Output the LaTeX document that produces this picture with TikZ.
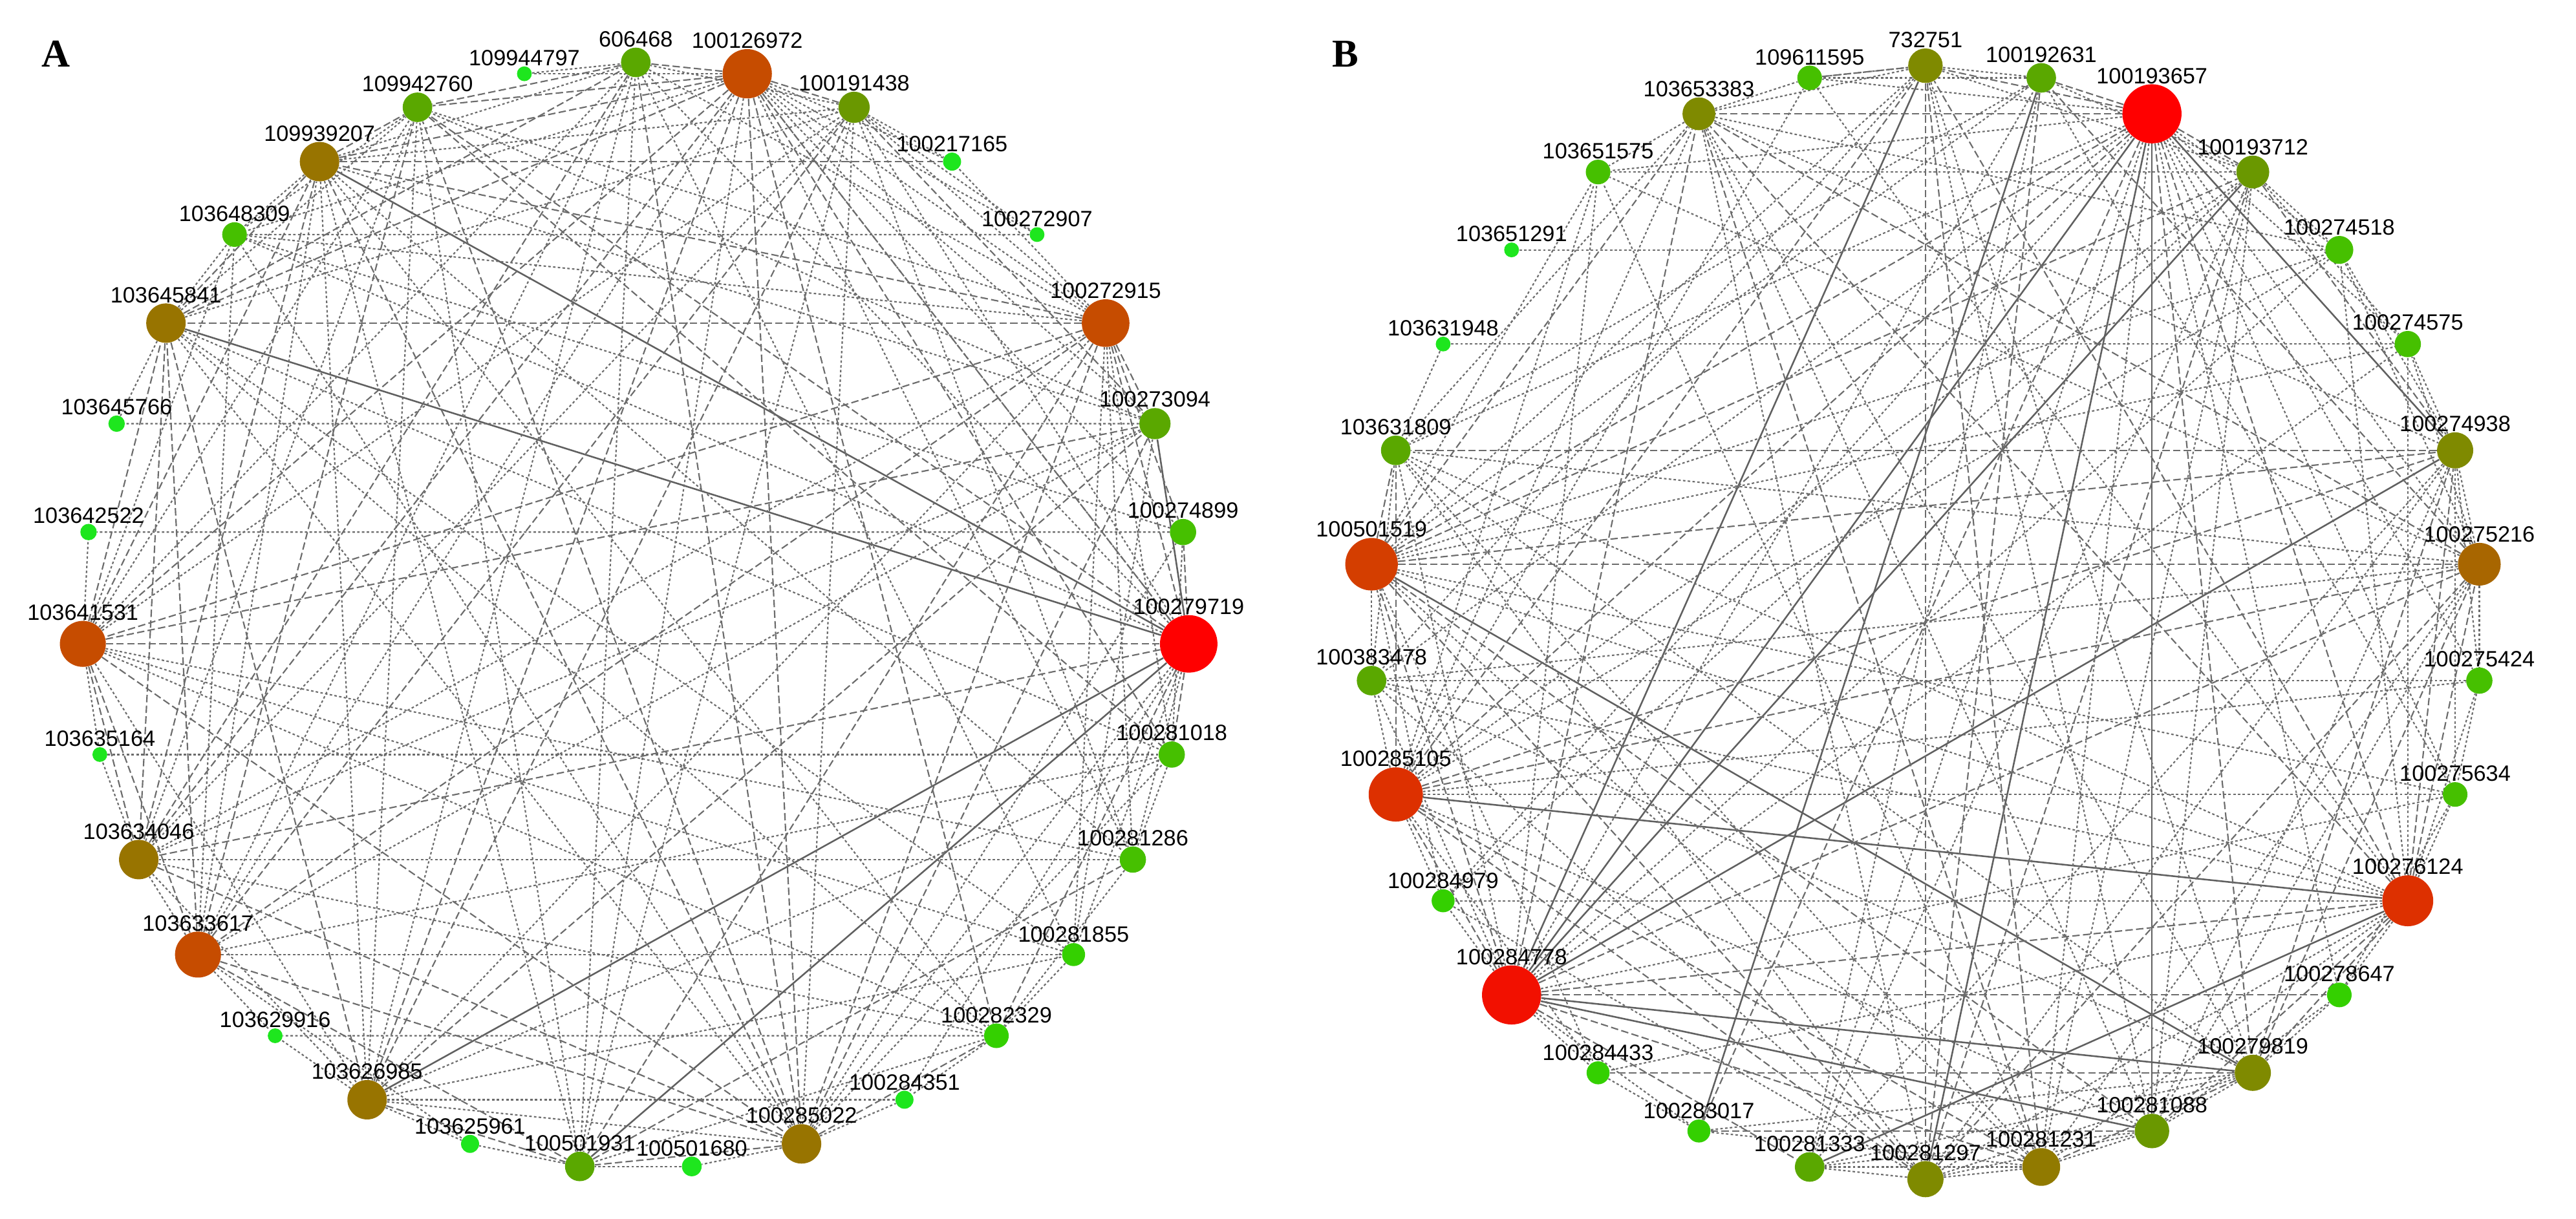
\documentclass[tikz,border=0pt]{standalone}
\usepackage{fontspec}
\newfontfamily\labfont{Liberation Sans}
\newfontfamily\panfont{Liberation Serif}
\pgfdeclarelayer{edges}
\pgfsetlayers{edges,main}
\definecolor{edgeC}{HTML}{6C6C6C}
\definecolor{edgeS}{HTML}{606060}
\definecolor{cRed}{HTML}{FF0000}
\definecolor{cRedB}{HTML}{F21000}
\definecolor{cVerm}{HTML}{DD3000}
\definecolor{cRust}{HTML}{D43E00}
\definecolor{cRustA}{HTML}{C64C00}
\definecolor{cBrown}{HTML}{A86600}
\definecolor{cGold}{HTML}{987400}
\definecolor{cGoldB}{HTML}{917A00}
\definecolor{cOlive}{HTML}{7F8A00}
\definecolor{cOliveG}{HTML}{6A9800}
\definecolor{cLeaf}{HTML}{5AA800}
\definecolor{cGrass}{HTML}{46C000}
\definecolor{cLime}{HTML}{34D000}
\definecolor{cNeon}{HTML}{1EE61E}
\begin{document}
\begin{tikzpicture}[x=1pt, y=-1pt, line cap=round, line join=round]
\tikzset{vtx/.style={circle, inner sep=0pt, draw=none},
  lab/.style={font=\labfont\fontsize{13.5}{14}\selectfont, inner sep=0pt, text=black},
  weak/.style={draw=edgeC, line width=0.85pt, dash pattern=on 1.5pt off 1.4pt},
  mid/.style={draw=edgeC, line width=0.85pt, dash pattern=on 4.5pt off 2pt},
  strong/.style={draw=edgeS, line width=1pt},
  panel/.style={font=\panfont\bfseries\fontsize{24}{24}\selectfont, inner sep=0pt}}
\useasboundingbox (0,0) rectangle (1568,742);
\node[panel] (labA) at (34,33) {A};
\node[panel] (labB) at (819,33) {B};

\begin{scope}[shift={(387,375)}]
\foreach \gene/\dia/\col [count=\k from 0] in {606468/18/cLeaf, 100126972/30/cRustA,
    100191438/19/cOliveG, 100217165/11/cNeon, 100272907/9/cNeon, 100272915/29/cRustA,
    100273094/19/cLeaf, 100274899/16/cGrass, 100279719/35/cRed, 100281018/16/cGrass,
    100281286/16/cGrass, 100281855/14/cLime, 100282329/15/cLime, 100284351/11/cNeon,
    100285022/24/cGold, 100501680/12/cNeon, 100501931/18/cLeaf, 103625961/11/cNeon,
    103626985/24/cGold, 103629916/9/cNeon, 103633617/28/cRustA, 103634046/24/cGold,
    103635164/9/cNeon, 103641531/28/cRustA, 103642522/10/cNeon, 103645766/10/cNeon,
    103645841/24/cGold, 103648309/15/cGrass, 109939207/24/cGold, 109942760/18/cLeaf,
    109944797/9/cNeon}
  \node[vtx, minimum size=\dia*1pt, fill=\col, label={[lab]above:\gene}] (a\k) at ({-90+\k*360/31}:337) {};
\end{scope}

\begin{scope}[shift={(1172,379)}]
\foreach \gene/\dia/\col [count=\k from 0] in {732751/21/cOlive, 100192631/18/cLeaf,
    100193657/36/cRed, 100193712/20/cOliveG, 100274518/17/cGrass, 100274575/16/cGrass,
    100274938/22/cOlive, 100275216/26/cBrown, 100275424/16/cGrass, 100275634/15/cGrass,
    100276124/31/cVerm, 100278647/15/cLime, 100279819/22/cOlive, 100281088/21/cOliveG,
    100281231/23/cGoldB, 100281297/22/cOlive, 100281333/18/cLeaf, 100283017/14/cLime,
    100284433/14/cLime, 100284778/36/cRedB, 100284979/14/cLime, 100285105/33/cVerm,
    100383478/18/cLeaf, 100501519/32/cRust, 103631809/18/cLeaf, 103631948/9/cNeon,
    103651291/9/cNeon, 103651575/15/cGrass, 103653383/20/cOlive, 109611595/15/cGrass}
  \node[vtx, minimum size=\dia*1pt, fill=\col, label={[lab]above:\gene}] (b\k) at ({-90+\k*12}:339) {};
\end{scope}

\begin{pgfonlayer}{edges}
\foreach \i/\j in {28/8, 26/8, 6/8, 16/8, 18/8}
  \draw[strong] (a\i) -- (a\j);
\foreach \i/\lst in {1/{0,2,29,28,26,23,21,18,14,12,9}, 5/{26,6,7,8,28,23,20,16,14},
    8/{23,7,9,12,21,1,29}, 23/{26,20,21,28,14,6}, 20/{26,14,16,2,29}, 28/{3,29,26,21,14},
    26/{0,18,21}, 21/{0,14}, 18/{2,6,16}, 14/{0,6,12,16,29}, 0/{29}, 2/{6}, 16/{10}, 29/{9}}
  \foreach \j in \lst \draw[mid] (a\i) -- (a\j);
\foreach \i/\lst in {1/{3,5,6,7,8,10,16,20,27,30}, 5/{0,2,3,9,10,11,18,21,27,29},
    8/{0,2,10,11,13,14,27}, 23/{0,2,10,11,12,18,22,24,27,29}, 20/{0,6,9,11,17,19,21,27,28},
    28/{0,2,6,10,12,16,18,27}, 26/{2,9,11,12,14,25,27,29}, 21/{2,6,10,12,18,22,29},
    18/{0,9,11,13,14,17,19,29}, 14/{2,7,9,13,15,27}, 4/{1,27}, 2/{0,3,4,10,16},
    6/{11,25,29}, 7/{9,24,27}, 9/{10,22}, 10/{12}, 11/{12}, 12/{13,16,19}, 15/{16},
    16/{0,17,29}, 29/{27}, 30/{0}, 0/{11}}
  \foreach \j in \lst \draw[weak] (a\i) -- (a\j);

\foreach \i/\lst in {2/{13,15,6,19}, 19/{3,6,0,12,13}, 23/{12}, 21/{10}, 1/{17}, 10/{16}}
  \foreach \j in \lst \draw[strong] (b\i) -- (b\j);
\foreach \i/\lst in {2/{0,1,3,28,23,21,10,12,17}, 19/{11,21,23,14,16,7,10,28},
    23/{6,7,3,28,24,13,15}, 21/{6,7,24,14,15,0}, 10/{7,6,12,13,28,0}, 7/{12,15,28,1},
    0/{15,14}, 28/{14}, 6/{12,24}, 12/{14,18}, 3/{6,15}, 29/{0}, 1/{15}, 17/{13}}
  \foreach \j in \lst \draw[mid] (b\i) -- (b\j);
\foreach \i/\lst in {2/{4,5,7,8,9,11,14,16,20,22,24,27,29}, 19/{1,4,5,9,17,18,20,22,24,27},
    23/{0,1,4,5,9,10,14,18,20,22,27}, 21/{3,4,8,9,13,18,20,22,27,28,29},
    10/{4,5,8,9,11,14,15,18,20,22,24,29}, 7/{4,5,6,8,13,14,22,24,27},
    0/{1,3,12,13,22,28,29}, 28/{4,6,12,13,15,24,27,29}, 6/{4,5,8,9,13,15,16},
    12/{11,13,15,16,17,22,24}, 15/{13,14,16,20,22,24}, 14/{3,13,16,17,24,27},
    3/{1,4,5,13,16,20,27}, 13/{11,16}, 1/{9,16,24,29}, 24/{22}, 25/{5,24}, 26/{4},
    22/{8}, 8/{9}, 11/{9}, 18/{17}}
  \foreach \j in \lst \draw[weak] (b\i) -- (b\j);
\end{pgfonlayer}
\end{tikzpicture}
\end{document}
